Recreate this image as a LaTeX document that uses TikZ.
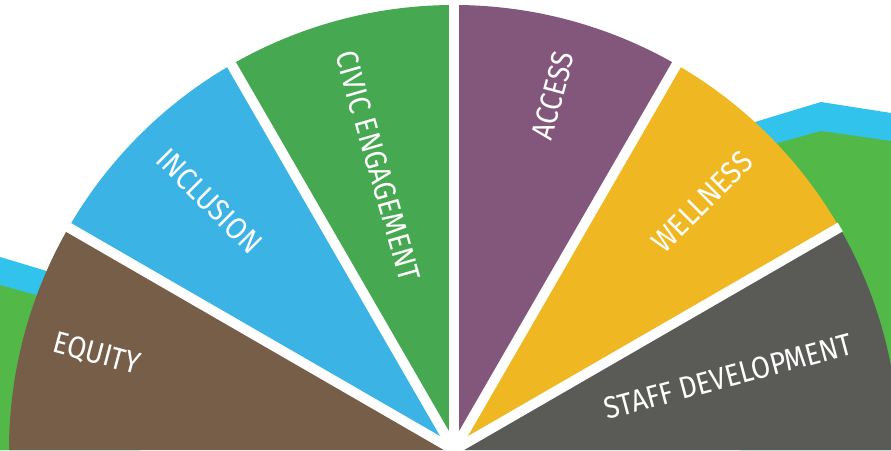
\documentclass[tikz,border=0pt]{standalone}
\usepackage{fontspec}
\newfontfamily\labfont{Fira Sans}
\definecolor{cbrown}{HTML}{775E48}
\definecolor{cblue}{HTML}{3BB4E5}
\definecolor{cgreen}{HTML}{47A852}
\definecolor{cpurple}{HTML}{83577B}
\definecolor{cyellow}{HTML}{EFB823}
\definecolor{cgray}{HTML}{5A5B57}
\definecolor{bgblue}{HTML}{32C3EC}
\definecolor{bggreen}{HTML}{52B848}
\begin{document}
\begin{tikzpicture}[x=1pt,y=1pt,
  lab/.style={text=white, font=\labfont\fontsize{27.5}{29}\selectfont, inner sep=0pt},
  gap/.style={white, line width=10pt}]
\useasboundingbox (0,0) rectangle (891,450);
\coordinate (c) at (454,0);
% background hills
\fill[bgblue] (0,193) -- (140,151) -- (140,0) -- (0,0) -- cycle;
\fill[bggreen] (0,165) -- (140,126) -- (140,0) -- (0,0) -- cycle;
\fill[bgblue] (740,323.5) -- (821,348) -- (891,337) -- (891,0) -- (740,0) -- cycle;
\fill[bggreen] (740,296.4) -- (821,319) -- (891,309) -- (891,0) -- (740,0) -- cycle;
% wedges
\def\R{445}
\fill[cbrown]  (c) -- ++(180:\R) arc[start angle=180, end angle=150, radius=\R] -- cycle;
\fill[cblue]   (c) -- ++(150:\R) arc[start angle=150, end angle=120, radius=\R] -- cycle;
\fill[cgreen]  (c) -- ++(120:\R) arc[start angle=120, end angle=90,  radius=\R] -- cycle;
\fill[cpurple] (c) -- ++(90:\R)  arc[start angle=90,  end angle=60,  radius=\R] -- cycle;
\fill[cyellow] (c) -- ++(60:\R)  arc[start angle=60,  end angle=30,  radius=\R] -- cycle;
\fill[cgray]   (c) -- ++(30:\R)  arc[start angle=30,  end angle=0,   radius=\R] -- cycle;
% gaps
\foreach \a in {30,60,90,120,150} \draw[gap] (c) -- ++(\a:446);
% labels
\node[lab, rotate=-15, yscale=1.12] (equity)    at ([shift={(165:370)}]c) {EQUITY};
\node[lab, rotate=-45, yscale=1.12] (inclusion) at ([shift={(134.5:349)}]c) {INCLUSION};
\node[lab, rotate=-74, yscale=1.12] (civic)     at ([shift={(105:294)}]c) {CIVIC ENGAGEMENT};
\node[lab, rotate=75, yscale=1.12]  (access)    at ([shift={(74.4:368)}]c) {ACCESS};
\node[lab, rotate=45, yscale=1.12]  (wellness)  at ([shift={(45:351)}]c) {WELLNESS};
\node[lab, rotate=15, yscale=1.12]  (staff)     at ([shift={(15:284)}]c) {STAFF DEVELOPMENT};
\end{tikzpicture}
\end{document}
